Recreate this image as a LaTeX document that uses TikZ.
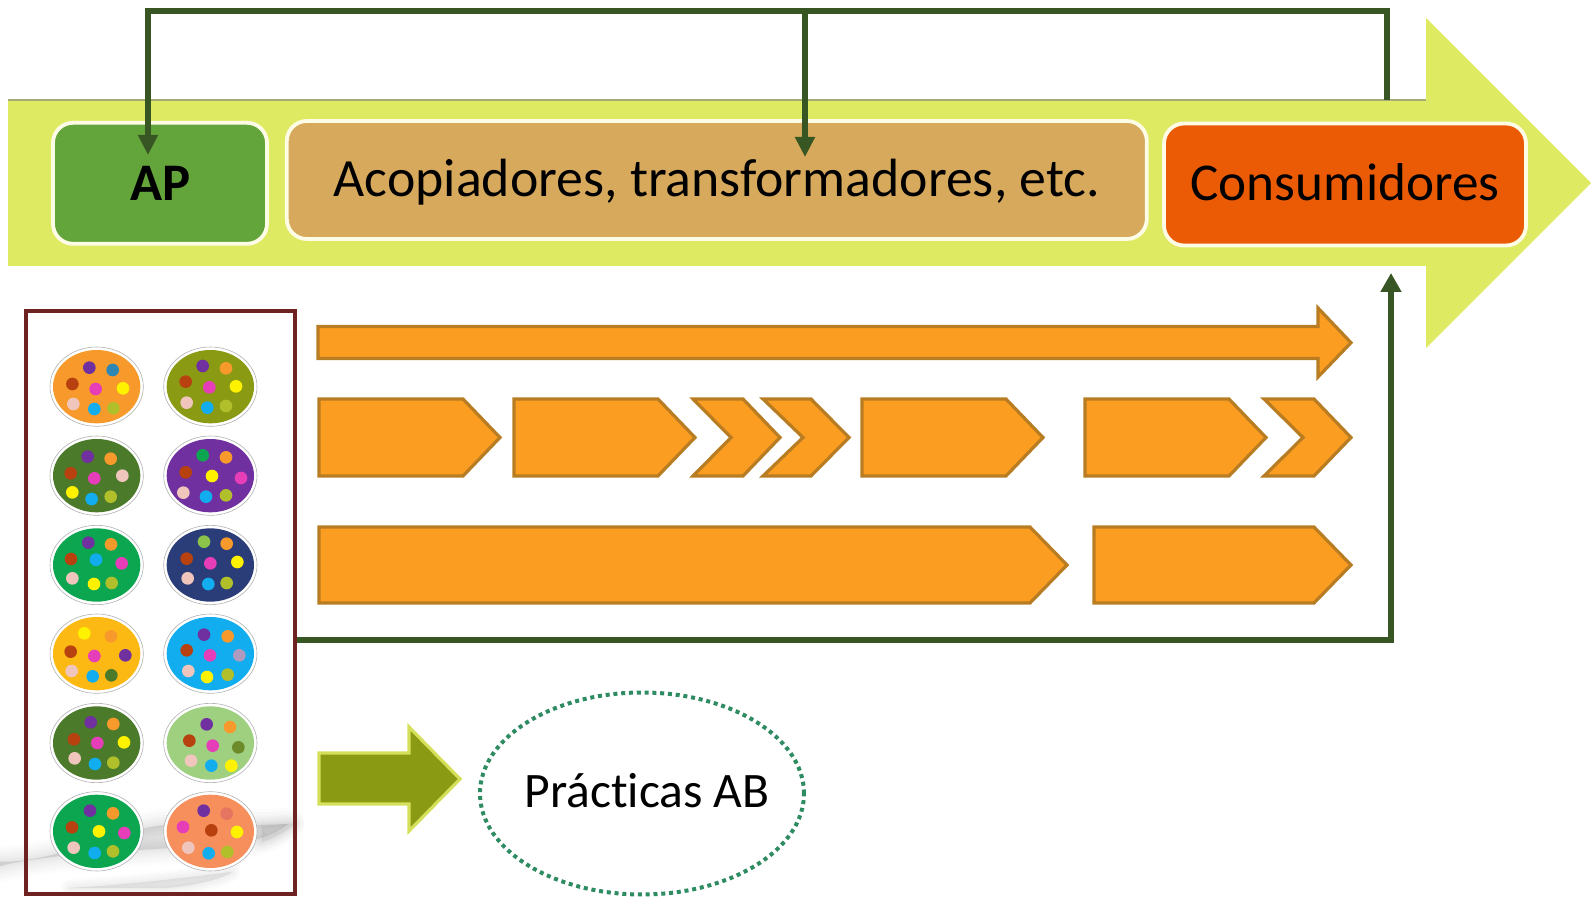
\documentclass[tikz,border=0pt]{standalone}
\usepackage{fontspec}
\setmainfont[Ligatures=NoCommon]{Carlito}
\usetikzlibrary{arrows.meta,shapes.geometric}
\definecolor{barc}{HTML}{DFEA63}
\definecolor{linec}{HTML}{375623}
\definecolor{apc}{HTML}{63A53A}
\definecolor{acoc}{HTML}{D7A95C}
\definecolor{conc}{HTML}{EB5B05}
\definecolor{ringc}{HTML}{FFFCE6}
\definecolor{orf}{HTML}{FB9D20}
\definecolor{ore}{HTML}{B87C22}
\definecolor{olf}{HTML}{8B9A13}
\definecolor{ole}{HTML}{D5E05A}
\definecolor{pu}{HTML}{7030A0}
\definecolor{og}{HTML}{F79A2B}
\definecolor{pk}{HTML}{E63DB8}
\definecolor{br}{HTML}{B8420F}
\definecolor{ye}{HTML}{FFF200}
\definecolor{bl}{HTML}{12ADEF}
\definecolor{li}{HTML}{B0BF2A}
\definecolor{pa}{HTML}{EFC5BC}
\definecolor{gr}{HTML}{0CA650}
\definecolor{tb}{HTML}{2E86B5}
\definecolor{lg}{HTML}{8BC34A}
\definecolor{dg}{HTML}{4A7A2A}
\definecolor{ma}{HTML}{B09BC0}
\definecolor{ol}{HTML}{6E8B2A}
\definecolor{ro}{HTML}{E57560}
\definecolor{framec}{HTML}{6E2222}
\definecolor{dotc}{HTML}{2E8B62}
\tikzset{
  stagebox/.style={rectangle,rounded corners=10pt,draw=ringc,line width=1.9pt,inner sep=0pt,text=black,text depth=0pt},
  orangeshape/.style={fill=orf,draw=ore,line width=1.6pt,miter limit=10},
  linkline/.style={draw=linec,line width=3pt,line join=miter},
  linktip/.style={-{Triangle[width=9.5pt,length=10pt]}},
}
% pentagon: left, shoulder, tip, top, bottom
\newcommand{\penta}[5]{\draw[orangeshape] ({#1+1},{#4+1}) -- (#2,{#4+1}) -- ({#3-2},{(#4+#5)/2}) -- (#2,{#5-1}) -- ({#1+1},{#5-1}) -- cycle;}
% chevron: left, notch, shoulder, tip, top, bottom
\newcommand{\chevr}[6]{\draw[orangeshape] ({#1+2},{#5+1}) -- (#3,{#5+1}) -- ({#4-2},{(#5+#6)/2}) -- (#3,{#6-1}) -- ({#1+2},{#6-1}) -- ({#2-1},{(#5+#6)/2}) -- cycle;}
% palette in zoom units: cx, cy, colour
\newcommand{\pal}[3]{%
  \fill[white] (#1,#2) ellipse [x radius=140,y radius=119];
  \draw[gray!60,line width=0.3pt] (#1,#2) ellipse [x radius=140,y radius=119];
  \fill[#3] (#1,#2) ellipse [x radius=131,y radius=110];
}
\newcommand{\spots}[1]{\foreach \a/\b/\c in {#1}{\fill[\c] (\a,\b) circle [radius=19];}}
\newcommand{\softblob}[2]{\foreach \w in {#1}{\path[fill=gray,draw=gray,opacity=.028,line width=\w pt,line join=round] #2;}}
\begin{document}
\begin{tikzpicture}[x=0.5pt,y=-0.5pt]
\useasboundingbox (0,0) rectangle (1591,897);
% backing arrow
\fill[barc] (8,100) -- (1426,100) -- (1426,18) -- (1591,183) -- (1426,348) -- (1426,266) -- (8,266) -- cycle;
\draw[gray!60!barc,line width=0.7pt] (8,100) -- (1426,100);
% stages
\node[stagebox,fill=apc,minimum width=107pt,minimum height=60.5pt,text height=17pt,font=\fontsize{26.4}{30}\selectfont\bfseries] (ap) at (160,183.3) {\hspace*{1pt}AP};
\node[stagebox,fill=acoc,minimum width=430pt,minimum height=59pt,text height=17pt,font=\fontsize{26.9}{30}\selectfont] (aco) at (716.8,180) {Acopiadores, transformadores, etc.};
\node[stagebox,fill=conc,minimum width=181pt,minimum height=61pt,text height=16.5pt,font=\fontsize{26.6}{30}\selectfont] (con) at (1345,184.5) {Consumidores};
% top connector
\coordinate (start) at (1387,100);
\coordinate (aptip) at (148,155);
\coordinate (acotip) at (805,157);
\coordinate (topy) at (805,11);
\draw[linkline] (start) |- (aptip |- topy) -- (aptip |- 0,60);
\draw[linkline,linktip] (aptip |- 0,60) -- (aptip);
\draw[linkline,line width=2.75pt,linktip] (topy) -- (acotip);
% shadow
\softblob{16,13,10,8,6,4,2.5,1,0.3}{(0,862) .. controls (60,862) and (115,830) .. (165,825) .. controls (210,825) and (255,826) .. (288,824) .. controls (278,832) and (265,838) .. (245,842) .. controls (180,850) and (60,850) .. (0,866) -- cycle}
\softblob{9,6,4,2,0.3}{(262,826) -- (296,823) .. controls (288,830) and (275,838) .. (262,842) -- cycle}
\softblob{9,7,5,3,1.5,0.3}{(70,888) .. controls (110,886) and (170,880) .. (232,872) .. controls (220,880) and (190,886) .. (165,888) -- cycle}
% palettes
\begin{scope}[shift={(0,300)},x=0.16667pt,y=-0.16667pt]
\pal{290}{260}{og}
\spots{268/203/pu,338/210/tb,217/252/br,287/267/pk,369/265/ye,220/312/pa,283/327/bl,340/325/li}
\pal{631}{260}{olf}
\spots{608/198/pu,678/205/og,557/245/br,628/262/pk,708/259/ye,560/308/pa,622/323/bl,678/318/li}
\pal{290}{527}{dg}
\spots{263/470/pu,332/476/og,212/520/br,283/535/pk,367/527/pa,217/577/ye,275/597/bl,332/590/li}
\pal{631}{527}{pu}
\spots{608/466/gr,678/472/og,557/517/br,636/528/ye,723/534/pk,550/578/pa,618/590/bl,678/586/li}
\pal{290}{795}{gr}
\spots{265/728/pu,333/733/og,213/777/br,288/779/bl,365/790/pk,217/835/pa,282/852/ye,335/849/li}
\definecolor{nv}{HTML}{2A3D78}
\pal{631}{795}{nv}
\spots{612/725/lg,680/731/og,560/776/br,631/790/pk,712/786/ye,563/835/pa,625/852/bl,680/849/li}
\end{scope}
\begin{scope}[shift={(0,597)},x=0.16667pt,y=-0.16667pt]
\definecolor{am}{HTML}{FDB913}
\pal{290}{170}{am}
\spots{253/109/ye,333/118/og,212/164/br,283/177/pk,376/175/pu,215/222/pa,278/238/bl,334/235/dg}
\pal{631}{170}{bl}
\spots{612/113/pu,683/118/og,560/160/br,630/175/pk,718/175/ma,565/222/pa,621/240/ye,683/233/li}
\pal{290}{438}{dg}
\spots{272/376/pu,340/381/og,222/427/br,292/438/pk,372/436/ye,224/484/pa,285/501/bl,340/497/li}
\definecolor{lgf}{HTML}{9ED080}
\pal{631}{438}{lgf}
\spots{620/382/pu,690/390/og,568/431/br,638/446/pk,715/451/ol,573/491/pa,634/506/bl,694/506/ye}
\pal{290}{703}{gr}
\spots{270/641/pu,339/649/og,216/691/br,297/703/ye,373/708/pk,221/752/pa,284/768/bl,339/763/li}
\definecolor{sal}{HTML}{F68F5C}
\pal{631}{703}{sal}
\spots{611/641/pu,680/650/ro,549/690/pk,634/700/br,711/705/ye,565/752/pa,626/769/bl,682/765/li}
\end{scope}
% group frame
\node[rectangle,draw=framec,line width=2pt,minimum width=134.5pt,minimum height=291pt,inner sep=0pt] (fam) at (160.5,602.5) {};
% chain arrows
\draw[orangeshape] (318,326.5) -- (1318,326.5) -- (1318,308) -- (1351,342.7) -- (1318,377) -- (1318,358.5) -- (318,358.5) -- cycle;
\penta{318}{463}{502}{398}{477}
\penta{513}{658}{697}{398}{477}
\chevr{691}{732}{743}{782}{398}{477}
\chevr{761}{804}{811}{851}{398}{477}
\penta{861}{1006}{1045}{398}{477}
\penta{1084}{1229}{1268}{398}{477}
\chevr{1262}{1304}{1314}{1353}{398}{477}
\penta{318}{1030}{1069}{526}{604}
\penta{1093}{1314}{1353}{526}{604}
% feedback connector
\coordinate (contip) at (1391,273);
\coordinate (footy) at (1391,640);
\draw[linkline,-{Triangle[width=10pt,length=9.5pt]}] (fam.east |- footy) -- (footy) -- (contip);
% practices
\draw[fill=olf,draw=ole,line width=1.6pt,miter limit=10] (319,753) -- (409,753) -- (409,727) -- (460,779) -- (409,831) -- (409,804) -- (319,804) -- cycle;
\node[ellipse,draw=dotc,line width=2pt,dash pattern=on 2pt off 1.9pt,minimum width=162pt,minimum height=101pt,inner sep=-8pt,text=black,font=\fontsize{24.8}{28}\selectfont,text height=13.5pt,text depth=0pt] (ab) at (642,793.5) {\hspace*{5pt}Prácticas AB};
\end{tikzpicture}
\end{document}
